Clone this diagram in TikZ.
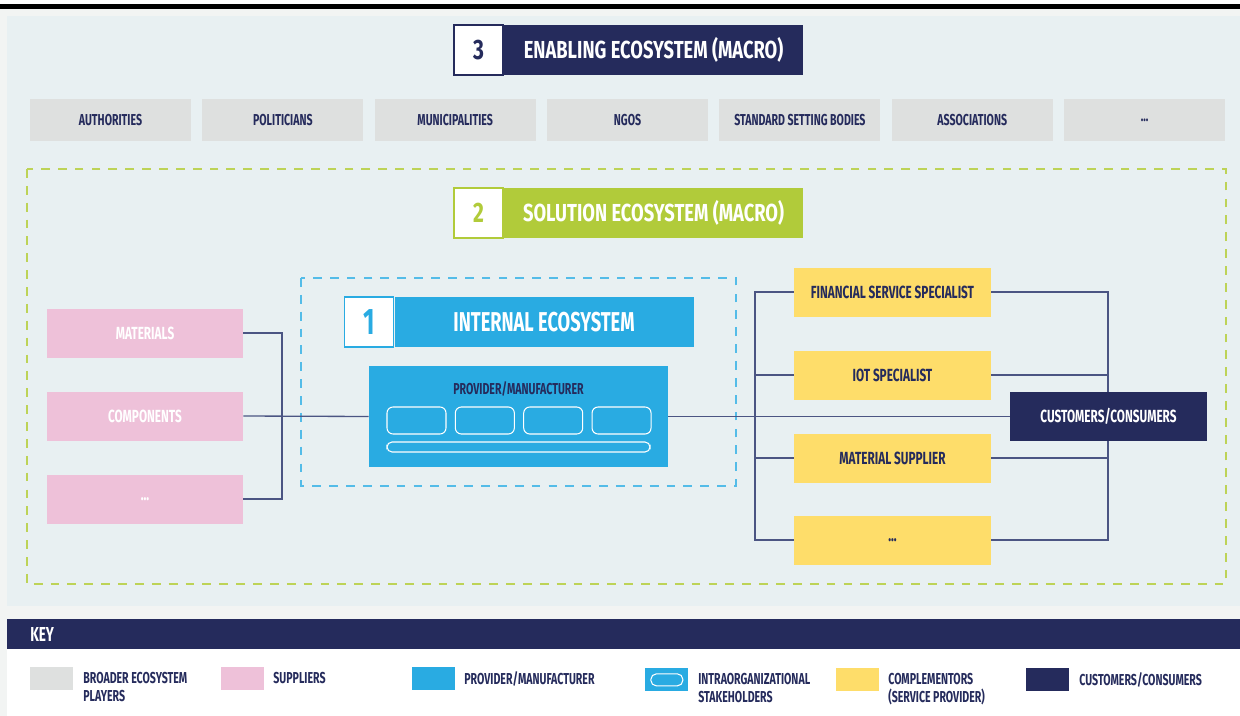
\documentclass[tikz,border=0pt]{standalone}
\usepackage{fontspec}
\usepackage{xcolor}
\usepackage{tikz}
\usetikzlibrary{positioning, backgrounds}
\newfontfamily\condfont{Fira Sans}[FakeStretch=0.67]
\newfontfamily\headfont{Fira Sans}[FakeStretch=0.745]
\definecolor{navycolor}{HTML}{252B5C}
\definecolor{greycolor}{HTML}{DEE0DF}
\definecolor{panelcolor}{HTML}{E8F0F2}
\definecolor{outercolor}{HTML}{F2F4F3}
\definecolor{pinkcolor}{HTML}{EEC1D9}
\definecolor{bluecolor}{HTML}{29ABE2}
\definecolor{yellowcolor}{HTML}{FEDD6A}
\definecolor{greencolor}{HTML}{B1CB3A}
\definecolor{wirecolor}{HTML}{4B5583}
\pgfdeclarelayer{wires}
\pgfsetlayers{background,wires,main}

\begin{document}
\begin{tikzpicture}[
    box/.style={minimum width=3.94cm, minimum height=0.98cm, inner sep=0pt,
                font=\condfont\bfseries\fontsize{10}{12}\selectfont},
    player/.style={box, fill=greycolor, text=navycolor, minimum width=3.22cm,
                   minimum height=0.84cm, font=\condfont\bfseries\fontsize{9}{11}\selectfont},
    supplier/.style={box, fill=pinkcolor, text=white, minimum width=3.92cm},
    compl/.style={box, fill=yellowcolor, text=navycolor},
    numbox/.style={draw=#1, fill=white, text=#1, line width=0.8pt, minimum width=0.98cm,
                   minimum height=1cm, inner sep=0pt, font=\headfont\bfseries\fontsize{16}{18}\selectfont},
    titlebox/.style={fill=#1, text=white, minimum width=5.98cm, minimum height=1cm, inner sep=0pt,
                     font=\headfont\bfseries\fontsize{14}{16}\selectfont},
    stake/.style={draw=white, line width=0.6pt, rounded corners=0.12cm, minimum width=1.18cm,
                  minimum height=0.54cm, inner sep=0pt},
    wire/.style={draw=wirecolor, line width=0.75pt},
    swatch/.style={minimum width=0.86cm, minimum height=0.46cm, inner sep=0pt, anchor=north west},
    keytext/.style={anchor=north west, inner sep=0pt, align=left, text=navycolor,
                    font=\condfont\bfseries\fontsize{9}{10.2}\selectfont}
]
    \useasboundingbox (0,0) rectangle (24.8,-14.32);

    % --- backdrop ---
    \begin{scope}[on background layer]
        \fill[outercolor] (0,0) rectangle (24.8,-14.32);
        \fill[white] (0,0) rectangle (24.8,-0.08);
        \fill[black] (0,-0.08) rectangle (24.8,-0.19);
        \fill[panelcolor] (0.14,-0.32) rectangle (24.8,-12.12);
        \fill[navycolor] (0.14,-12.38) rectangle (24.8,-12.98);
        \fill[white] (0.14,-12.98) rectangle (24.8,-14.32);
        \draw[greencolor!85!white, line width=1.1pt, dash pattern=on 5pt off 4.6pt]
            (0.54,-3.38) rectangle (24.52,-11.68);
        \draw[bluecolor!80!white, line width=1pt, dash pattern=on 5pt off 4.6pt]
            (6.02,-5.56) rectangle (14.72,-9.72);
    \end{scope}

    % --- 3: enabling ecosystem ---
    \node[numbox=navycolor] (n3) at (9.57,-1.0) {3};
    \node[titlebox=navycolor, right=0pt of n3] (t3) {ENABLING ECOSYSTEM (MACRO)};
    \foreach \name [count=\i from 0] in {AUTHORITIES, POLITICIANS, MUNICIPALITIES, NGOS,
                                         STANDARD SETTING BODIES, ASSOCIATIONS}
        \node[player] (p\i) at (2.21+\i*3.447,-2.4) {\name};
    \node[player] (p6) at (2.21+6*3.447,-2.4) {...};

    % --- 2: solution ecosystem ---
    \node[numbox=greencolor] (n2) at (9.57,-4.26) {2};
    \node[titlebox=greencolor, right=0pt of n2] (t2) {SOLUTION ECOSYSTEM (MACRO)};

    \node[supplier] (mat) at (2.9,-6.66) {MATERIALS};
    \node[supplier] (comp) at (2.9,-8.32) {COMPONENTS};
    \node[supplier] (sdots) at (2.9,-9.98) {...};

    \node[compl] (fin) at (17.85,-5.84) {FINANCIAL SERVICE SPECIALIST};
    \node[compl] (iot) at (17.85,-7.5) {IOT SPECIALIST};
    \node[compl] (msup) at (17.85,-9.16) {MATERIAL SUPPLIER};
    \node[compl] (cdots) at (17.85,-10.8) {...};

    \node[box, fill=navycolor, text=white] (cust) at (22.17,-8.33) {CUSTOMERS/CONSUMERS};

    % --- 1: internal ecosystem ---
    \node[numbox=bluecolor, minimum height=1cm, font=\condfont\bfseries\fontsize{21}{24}\selectfont]
        (n1) at (7.38,-6.44) {1};
    \node[titlebox=bluecolor, font=\condfont\bfseries\fontsize{15.5}{18}\selectfont,
          right=0pt of n1] (t1) {INTERNAL ECOSYSTEM};

    \node[fill=bluecolor, minimum width=5.98cm, minimum height=2.02cm] (prov) at (10.37,-8.33) {};
    \node[text=navycolor, font=\condfont\bfseries\fontsize{9}{11}\selectfont] (provlbl)
        at (10.37,-7.78) {PROVIDER/MANUFACTURER};
    \foreach \i in {0,1,2,3}
        \node[stake] (s\i) at (8.33+\i*1.367,-8.41) {};
    \node[stake, minimum width=5.26cm, minimum height=0.2cm, rounded corners=0.1cm] (sbar)
        at (10.37,-8.94) {};

    % --- connectors ---
    \coordinate (lj) at (5.64,-8.32);
    \coordinate (rj) at (15.1,-8.32);
    \coordinate (cj) at (22.16,-8.32);
    \begin{pgfonlayer}{wires}
        \draw[wire] (mat.east) -| (lj) |- (sdots.east);
        \draw[wire] (comp.east) -- (prov.west);
        \draw[wire] (prov.east) -- (cust.west);
        \draw[wire] (fin.west) -| (rj) |- (cdots.west);
        \draw[wire] (iot.west) -- (iot.west -| rj);
        \draw[wire] (msup.west) -- (msup.west -| rj);
        \draw[wire] (fin.east) -| (cj) |- (cdots.east);
        \draw[wire] (iot.east) -- (iot.east -| cj);
        \draw[wire] (msup.east) -- (msup.east -| cj);
    \end{pgfonlayer}

    % --- key ---
    \node[anchor=west, inner sep=0pt, text=white, font=\condfont\bfseries\fontsize{11.5}{13}\selectfont]
        (key) at (0.6,-12.68) {KEY};
    \node[swatch, fill=greycolor] (k1) at (0.6,-13.34) {};
    \node[keytext] (k1t) at (1.66,-13.43) {BROADER ECOSYSTEM\\PLAYERS};
    \node[swatch, fill=pinkcolor] (k2) at (4.42,-13.34) {};
    \node[keytext] (k2t) at (5.46,-13.43) {SUPPLIERS};
    \node[swatch, fill=bluecolor] (k3) at (8.24,-13.34) {};
    \node[keytext] (k3t) at (9.28,-13.43) {PROVIDER/MANUFACTURER};
    \node[swatch, fill=bluecolor] (k4) at (12.9,-13.36) {};
    \node[stake, minimum width=0.64cm, minimum height=0.24cm, rounded corners=0.11cm] (k4s) at (k4) {};
    \node[keytext] (k4t) at (13.96,-13.45) {INTRAORGANIZATIONAL\\STAKEHOLDERS};
    \node[swatch, fill=yellowcolor] (k5) at (16.72,-13.36) {};
    \node[keytext] (k5t) at (17.76,-13.45) {COMPLEMENTORS\\(SERVICE PROVIDER)};
    \node[swatch, fill=navycolor] (k6) at (20.52,-13.36) {};
    \node[keytext] (k6t) at (21.58,-13.45) {CUSTOMERS/CONSUMERS};
\end{tikzpicture}
\end{document}
